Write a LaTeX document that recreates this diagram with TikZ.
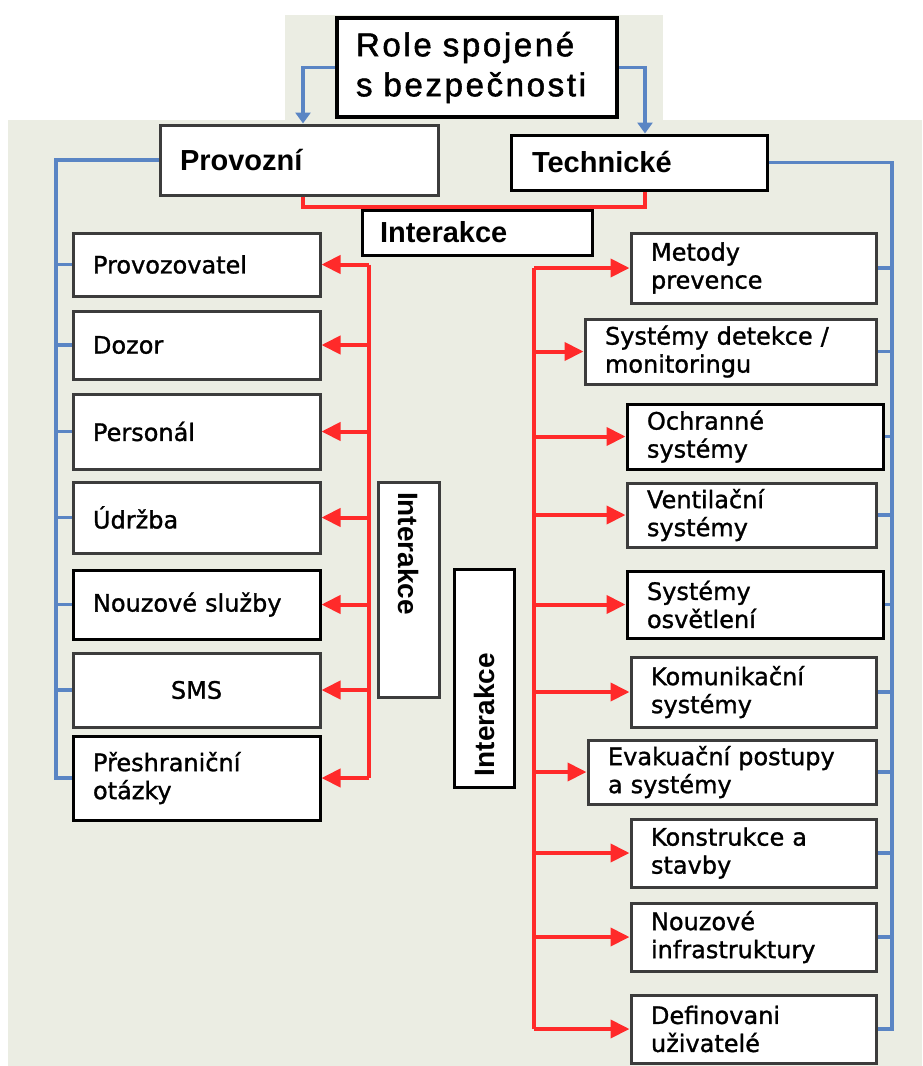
\documentclass[tikz,border=0pt]{standalone}
\usepackage{fontspec}
\setmainfont[FakeBold=1.2]{DejaVu Sans}
\newfontfamily\titlefnt[LetterSpace=8,FakeBold=1.6]{Liberation Sans}
\newfontfamily\hdrfnt{Liberation Sans}
\usetikzlibrary{arrows.meta}
\definecolor{bgc}{HTML}{EBEDE3}
\definecolor{bluec}{HTML}{5A85C4}
\definecolor{redc}{HTML}{FF2A2A}
\definecolor{boxc}{HTML}{3C3C3C}
\begin{document}
\begin{tikzpicture}[x=1pt,y=-1pt,
  box/.style={draw=boxc, line width=3pt, fill=white, inner ysep=0pt, align=left,
    font=\fontsize{24}{28}\selectfont},
  lb/.style={box, minimum width=247pt, text width=207pt, inner xsep=20pt, minimum height=#1},
  rb/.style n args={3}{box, minimum width=#1, text width=#2, inner xsep=20pt, minimum height=#3},
  hdr/.style={box, font=\hdrfnt\bfseries\fontsize{29}{32}\selectfont},
  vbox/.style={box, font=\hdrfnt\bfseries\fontsize{28}{30}\selectfont, inner xsep=10pt},
  blueline/.style={draw=bluec, line width=3.5pt},
  bluearrow/.style={blueline, -{Triangle[length=11pt,width=15pt]}},
  redline/.style={draw=redc, line width=4pt},
  redarrow/.style={redline, -{Triangle[length=19pt,width=18pt]}}
]
\useasboundingbox (0,0) rectangle (922,1066);
\fill[white] (0,0) rectangle (922,1066);
\fill[bgc] (8,120) rectangle (922,1066);
\fill[bgc] (285,15) rectangle (663,120);

% coordinates for buses
\coordinate (xL) at (303,0);
\coordinate (xR) at (645,0);
\coordinate (yR) at (0,207);
\coordinate (bl) at (56,0);
\coordinate (br) at (892,0);
\coordinate (rl) at (369,0);
\coordinate (rr) at (534,0);

% title and headers
\node[box, draw=black, line width=4pt, minimum width=280pt, minimum height=99pt,
  text width=242pt, inner xsep=19pt, font=\titlefnt\fontsize{33}{40}\selectfont]
  (title) at (477,67.5) {Role spojené\\s bezpečnosti};
\node[hdr, minimum width=278pt, minimum height=70pt, text width=238pt, inner xsep=20pt]
  (prov) at (299,160) {Provozní};
\node[hdr, draw=black, minimum width=256pt, minimum height=55pt, text width=214pt, inner xsep=21pt]
  (tech) at (639,162.5) {Technické};
\node[hdr, draw=black, minimum width=230pt, minimum height=45pt, text width=194pt, inner xsep=18pt]
  (inter) at (477,232.5) {Interakce};

% left boxes
\node[lb=63pt]  (l1) at (196.5,264.5) {Provozovatel};
\node[lb=68pt]  (l2) at (196.5,345)   {Dozor};
\node[lb=75pt]  (l3) at (196.5,431.5) {Personál};
\node[lb=71pt]  (l4) at (196.5,517.5) {Údržba};
\node[lb=69pt, draw=black]  (l5) at (196.5,604.5) {Nouzové služby};
\node[lb=74pt, align=center]  (l6) at (196.5,690) {SMS};
\node[lb=84pt, draw=black]  (l7) at (196.5,778) {Přeshraniční\\otázky};

% vertical interaction boxes
\node[vbox, rotate=-90, minimum width=215pt, minimum height=61pt, text width=195pt]
  (v1) at (408.5,589.5) {Interakce};
\node[vbox, draw=black, rotate=90, minimum width=218pt, minimum height=60pt, text width=196pt]
  (v2) at (484,678) {Interakce};

% right boxes
\node[rb={245pt}{205pt}{70pt}] (r1) at (753.5,268) {Metody\\prevence};
\node[rb={291pt}{251pt}{65pt}] (r2) at (730.5,351.5) {Systémy detekce /\\monitoringu};
\node[rb={256pt}{216pt}{65pt}, draw=black] (r3) at (755,436.5) {Ochranné\\systémy};
\node[rb={249pt}{209pt}{64pt}] (r4) at (751.5,515) {Ventilační\\systémy};
\node[rb={256pt}{216pt}{67pt}, draw=black] (r5) at (755,604.5) {Systémy\\osvětlení};
\node[rb={245pt}{205pt}{70pt}] (r6) at (753.5,692) {Komunikační\\systémy};
\node[rb={288pt}{248pt}{64pt}] (r7) at (732,772) {Evakuační postupy\\a systémy};
\node[rb={245pt}{205pt}{68pt}] (r8) at (753.5,853) {Konstrukce a\\stavby};
\node[rb={245pt}{205pt}{68pt}] (r9) at (753.5,937) {Nouzové\\infrastruktury};
\node[rb={245pt}{205pt}{68pt}] (r10) at (753.5,1029) {Definovani\\uživatelé};

% blue arrows from title
\draw[bluearrow] (title.west) -| (xL |- prov.north);
\draw[bluearrow] (title.east) -| (xR |- tech.north);

% red link between headers
\draw[redline] (xL |- prov.south) |- (xR |- yR) -- (xR |- tech.south);

% left blue bus
\draw[blueline] (prov.west) -| (bl |- l7.west) -- (l7.west);
\foreach \n in {l1,l2,l3,l4,l5,l6}{\draw[blueline] (bl |- \n.west) -- (\n.west);}

% right blue bus
\draw[blueline] (tech.east) -| (br |- r10.east) -- (r10.east);
\foreach \n in {r1,r2,r3,r4,r5,r6,r7,r8,r9}{\draw[blueline] (br |- \n.east) -- (\n.east);}

% left red bus
\draw[redline] (rl |- l1.east) -- (rl |- l7.east);
\foreach \n in {l1,l2,l3,l4,l5,l6,l7}{\draw[redarrow] (rl |- \n.east) -- (\n.east);}

% right red bus
\draw[redline] (rr |- r1.west) -- (rr |- r10.west);
\foreach \n in {r1,r2,r3,r4,r5,r6,r7,r8,r9,r10}{\draw[redarrow] (rr |- \n.west) -- (\n.west);}

\end{tikzpicture}
\end{document}
